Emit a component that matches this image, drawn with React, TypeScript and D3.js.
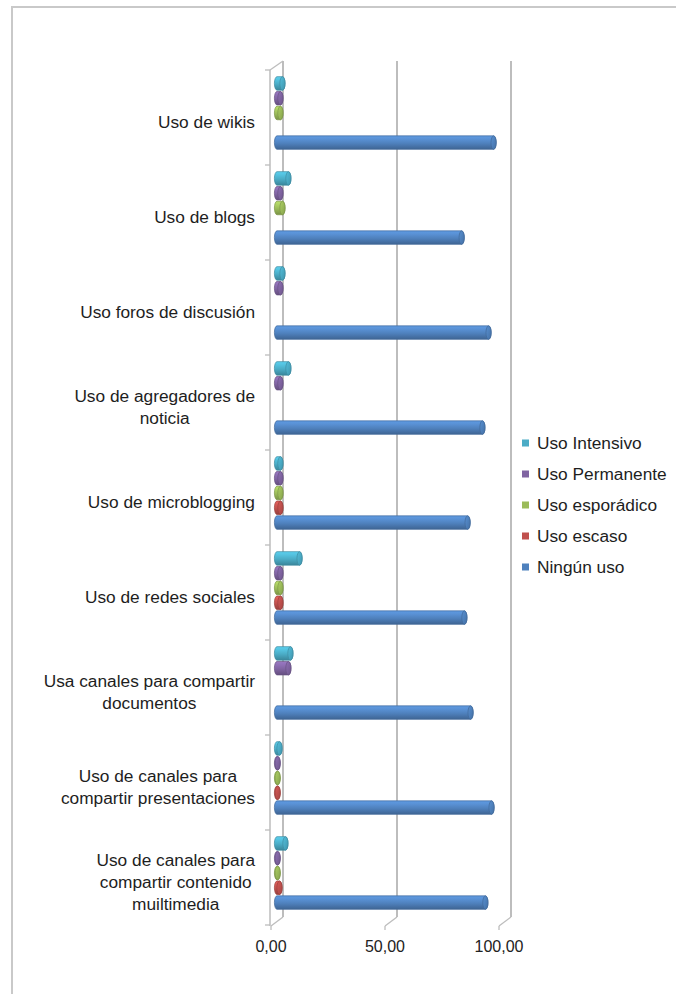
import React from "react";
import * as d3 from "d3";

const categoryLines: string[][] = [
  ["Uso de wikis"],
  ["Uso de blogs"],
  ["Uso foros de discusión"],
  ["Uso de agregadores de", "noticia"],
  ["Uso de microblogging"],
  ["Uso de redes sociales"],
  ["Usa canales para compartir", "documentos"],
  ["Uso de canales para", "compartir presentaciones"],
  ["Uso de canales para", "compartir contenido", "muiltimedia"],
];

const seriesNames = ["Uso Intensivo", "Uso Permanente", "Uso esporádico", "Uso escaso", "Ningún uso"];
const seriesColors = ["#4BACC6", "#8064A2", "#9BBB59", "#C0504D", "#4F81BD"];

const intensivo = [2.4, 5.0, 2.4, 5.0, 1.5, 9.9, 5.9, 1.1, 3.7];
const permanente = [1.5, 1.5, 1.5, 1.5, 1.5, 1.5, 5.0, 0.3, 0.3];
const esporadico = [1.5, 2.4, 0, 0, 1.5, 1.5, 0, 0.3, 0.3];
const escaso = [0, 0, 0, 0, 1.5, 1.5, 0, 0.3, 1.1];
const ningun = [95.0, 81.0, 92.8, 90.1, 83.6, 82.2, 84.9, 94.1, 91.4];

const seriesValues = [intensivo, permanente, esporadico, escaso, ningun];

const tickValues = [0, 50, 100];
const tickLabels = ["0,00", "50,00", "100,00"];

const FONT = "'Liberation Sans', Arial, Helvetica, sans-serif";
const CAT_SIZE = 17.3;

let ctx: CanvasRenderingContext2D | null = null;
function measure(text: string, size: number) {
  if (!ctx) {
    const c = document.createElement("canvas");
    ctx = c.getContext("2d");
  }
  if (!ctx) return text.length * size * 0.5;
  ctx.font = `${size}px 'Liberation Sans', Arial, sans-serif`;
  return ctx.measureText(text).width;
}

export default function App() {
  const W = 676;
  const H = 994;
  const depthDx = -12;
  const depthDy = 9;
  const backTop = 61;
  const backBottom = 917;

  const xBack = d3.scaleLinear().domain([0, 100]).range([283, 511]);
  const xBar = d3.scaleLinear().domain([0, 100]).range([277, 505]);
  const idx = d3.range(categoryLines.length);
  const yFront = d3.scaleBand<number>().domain(idx).range([70, 925]).padding(0);
  const ySeries = d3.scaleBand<number>().domain(d3.range(5)).range([6, 80]).padding(0);

  const barH = 13.5;
  const r = barH / 2;
  const rx = 2.6;

  const gradId = (s: number) => `g${s}`;
  const capId = (s: number) => `c${s}`;

  const labelRight = 255;
  const lineH = 22;

  return (
    <div style={{ position: "absolute", left: 0, top: 0 }}>
      <svg width={W} height={H} style={{ display: "block", background: "#fff" }}>
        <defs>
          {seriesColors.map((c, s) => {
            const base = d3.color(c)!;
            return (
              <linearGradient key={s} id={gradId(s)} x1="0" y1="0" x2="0" y2="1">
                <stop offset="0%" stopColor={base.brighter(0.5).formatHex()} />
                <stop offset="22%" stopColor={base.brighter(0.35).formatHex()} />
                <stop offset="55%" stopColor={base.formatHex()} />
                <stop offset="100%" stopColor={base.darker(0.7).formatHex()} />
              </linearGradient>
            );
          })}
          {seriesColors.map((c, s) => {
            const base = d3.color(c)!;
            return (
              <linearGradient key={s} id={capId(s)} x1="0" y1="0" x2="1" y2="1">
                <stop offset="0%" stopColor={base.brighter(0.3).formatHex()} />
                <stop offset="100%" stopColor={base.darker(0.4).formatHex()} />
              </linearGradient>
            );
          })}
        </defs>

        {/* outer frame */}
        <rect x={12} y={7} width={700} height={1000} fill="#fff" stroke="#c9c9c9" strokeWidth={2} />

        {/* back wall gridlines + floor depth lines */}
        {tickValues.map((t, i) => (
          <g key={i}>
            <line x1={xBack(t)} x2={xBack(t)} y1={backTop} y2={backBottom} stroke="#bdbdbd" strokeWidth={2} />
            <line
              x1={xBack(t)}
              y1={backBottom}
              x2={xBack(t) + depthDx}
              y2={backBottom + depthDy}
              stroke="#bdbdbd"
              strokeWidth={1.3}
            />
            <line
              x1={xBack(t) + depthDx}
              y1={backBottom + depthDy}
              x2={xBack(t) + depthDx}
              y2={backBottom + depthDy + 4}
              stroke="#bdbdbd"
              strokeWidth={1.3}
            />
            <text
              x={xBack(t) + depthDx}
              y={952}
              textAnchor="middle"
              fontFamily={FONT}
              fontSize={16}
              fill="#222"
            >
              {tickLabels[i]}
            </text>
          </g>
        ))}

        {/* left wall */}
        <line x1={270} x2={270} y1={70} y2={926} stroke="#bdbdbd" strokeWidth={1.5} />
        <line x1={270} y1={70} x2={283} y2={backTop} stroke="#bdbdbd" strokeWidth={1.3} />
        {d3.range(categoryLines.length + 1).map((k) => {
          const y = 70 + k * yFront.bandwidth();
          return <line key={k} x1={265} x2={270} y1={y} y2={y} stroke="#bdbdbd" strokeWidth={1.3} />;
        })}

        {/* bars */}
        {idx.map((i) =>
          seriesValues.map((vals, s) => {
            const v = vals[i];
            if (!v) return null;
            const yc = (yFront(i) as number) + (ySeries(s) as number) + ySeries.bandwidth() / 2;
            const x0 = xBar(0);
            const x1 = xBar(v);
            const d = `M${x0},${yc - r} L${x1},${yc - r} A${rx},${r} 0 0 1 ${x1},${yc + r} L${x0},${yc + r} A${rx},${r} 0 0 1 ${x0},${yc - r} Z`;
            const stroke = d3.color(seriesColors[s])!.darker(0.6).formatHex();
            return (
              <g key={`${i}-${s}`}>
                <path d={d} fill={`url(#${gradId(s)})`} stroke={stroke} strokeWidth={0.7} />
                <ellipse cx={x1} cy={yc} rx={rx} ry={r} fill={`url(#${capId(s)})`} stroke={stroke} strokeWidth={0.7} />
              </g>
            );
          })
        )}

        {/* category labels */}
        {idx.map((i) => {
          const lines = categoryLines[i];
          const maxW = Math.max(...lines.map((l) => measure(l, CAT_SIZE)));
          const cx = labelRight - maxW / 2;
          const center = (yFront(i) as number) + yFront.bandwidth() / 2 + 4.5;
          return (
            <text key={i} fontFamily={FONT} fontSize={CAT_SIZE} fill="#1e1e1e" textAnchor="middle">
              {lines.map((l, j) => (
                <tspan key={j} x={cx} y={center + (j - (lines.length - 1) / 2) * lineH + CAT_SIZE * 0.35}>
                  {l}
                </tspan>
              ))}
            </text>
          );
        })}

        {/* legend */}
        {seriesNames.map((n, s) => {
          const yc = 443 + s * 31;
          return (
            <g key={s}>
              <rect x={522} y={yc - 3.5} width={7} height={7} fill={seriesColors[s]} />
              <text x={537} y={yc + CAT_SIZE * 0.35} fontFamily={FONT} fontSize={CAT_SIZE} fill="#1e1e1e">
                {n}
              </text>
            </g>
          );
        })}
      </svg>
    </div>
  );
}
